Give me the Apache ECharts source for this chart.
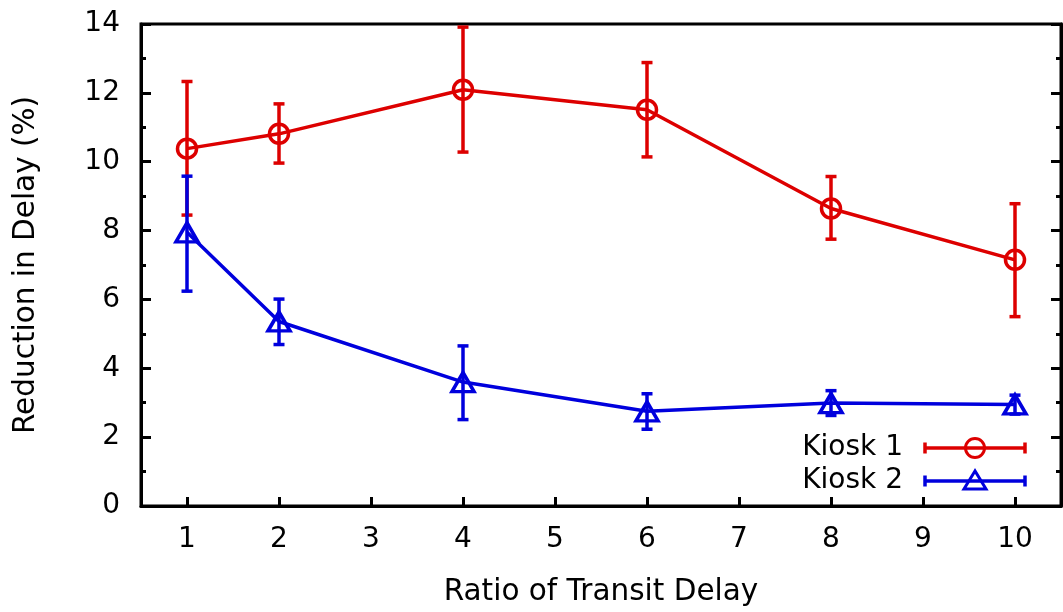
<!DOCTYPE html>
<html>
<head>
<meta charset="utf-8">
<script src="https://cdn.jsdelivr.net/npm/echarts@6/dist/echarts.min.js"></script>
<style>
html,body{margin:0;padding:0;background:#fff;}
#chart{width:1063px;height:612px;}
</style>
</head>
<body>
<div id="chart"></div>
<script>
// ---- data ----
const xValues = [1, 2, 4, 6, 8, 10];
const kiosk1Mean = [10.38, 10.81, 12.09, 11.51, 8.64, 7.15];
const kiosk1Low  = [8.45, 9.96, 10.28, 10.14, 7.75, 5.50];
const kiosk1High = [12.33, 11.68, 13.91, 12.88, 9.57, 8.78];
const kiosk2Mean = [7.95, 5.36, 3.60, 2.75, 2.99, 2.95];
const kiosk2Low  = [6.24, 4.69, 2.51, 2.23, 2.63, 2.67];
const kiosk2High = [9.58, 6.01, 4.65, 3.26, 3.35, 3.22];
const xTickValues = [1, 2, 3, 4, 5, 6, 7, 8, 9, 10];
const seriesNames = ['Kiosk 1', 'Kiosk 2'];
const xAxisTitle = 'Ratio of Transit Delay';
const yAxisTitle = 'Reduction in Delay (%)';

const RED = '#dd0000';
const BLUE = '#0000dd';
const FONT = "'DejaVu Sans', 'Liberation Sans', Arial, sans-serif";
const FS = 28;
const FS_TITLE = 29.5;

function pairs(xs, ys) { return xs.map((x, i) => [x, ys[i]]); }
function triples(xs, lo, hi) { return xs.map((x, i) => [x, lo[i], hi[i]]); }

function errorRenderer(color) {
  return function (params, api) {
    const x = api.value(0), lo = api.value(1), hi = api.value(2);
    const pLo = api.coord([x, lo]);
    const pHi = api.coord([x, hi]);
    const w = 5.5;
    const st = { stroke: color, lineWidth: 3.5 };
    return {
      type: 'group',
      children: [
        { type: 'line', shape: { x1: pLo[0], y1: pLo[1], x2: pHi[0], y2: pHi[1] }, style: st },
        { type: 'line', shape: { x1: pLo[0] - w, y1: pLo[1], x2: pLo[0] + w, y2: pLo[1] }, style: st },
        { type: 'line', shape: { x1: pHi[0] - w, y1: pHi[1], x2: pHi[0] + w, y2: pHi[1] }, style: st }
      ]
    };
  };
}

const chart = echarts.init(document.getElementById('chart'), null, { renderer: 'canvas' });

const legendX0 = 925, legendX1 = 1025, legendMX = 975;
const legendY = [448, 481];
function legendRow(y, color, name, markerShape) {
  const st = { stroke: color, lineWidth: 3.5 };
  const items = [
    { type: 'text', style: { text: name, x: 903, y: y, align: 'right', verticalAlign: 'middle', font: FS + 'px ' + FONT, fill: '#000' } },
    { type: 'line', shape: { x1: legendX0, y1: y, x2: legendX1, y2: y }, style: st },
    { type: 'line', shape: { x1: legendX0, y1: y - 5.5, x2: legendX0, y2: y + 5.5 }, style: st },
    { type: 'line', shape: { x1: legendX1, y1: y - 5.5, x2: legendX1, y2: y + 5.5 }, style: st }
  ];
  if (markerShape === 'circle') {
    items.push({ type: 'circle', shape: { cx: legendMX, cy: y, r: 9.5 }, style: { stroke: color, lineWidth: 3, fill: 'none' } });
  } else {
    items.push({ type: 'polygon', shape: { points: [[legendMX, y - 10], [legendMX - 11, y + 8], [legendMX + 11, y + 8]] }, style: { stroke: color, lineWidth: 3, fill: 'none' } });
  }
  return items;
}

const option = {
  backgroundColor: '#fff',
  animation: false,
  grid: {
    left: 141, right: 2, top: 24, bottom: 104,
    show: true, borderColor: '#000', borderWidth: 3, backgroundColor: 'transparent'
  },
  xAxis: {
    type: 'value', min: 0.5, max: 10.5,
    name: xAxisTitle, nameLocation: 'middle', nameGap: 71,
    nameTextStyle: { fontSize: FS_TITLE, color: '#000', fontFamily: FONT },
    axisLine: { show: true, lineStyle: { color: '#000', width: 3 } },
    axisTick: { show: true, inside: true, length: 9, customValues: xTickValues, lineStyle: { color: '#000', width: 3 } },
    axisLabel: { customValues: xTickValues, fontSize: FS, color: '#000', fontFamily: FONT, margin: 20 },
    splitLine: { show: false }
  },
  yAxis: [{
    type: 'value', min: 0, max: 14, interval: 2,
    name: yAxisTitle, nameLocation: 'middle', nameGap: 100,
    nameTextStyle: { fontSize: FS_TITLE, color: '#000', fontFamily: FONT },
    axisLine: { show: true, lineStyle: { color: '#000', width: 3 } },
    axisTick: { show: true, inside: true, length: 10, lineStyle: { color: '#000', width: 3 } },
    minorTick: { show: true, splitNumber: 2, length: 5, lineStyle: { color: '#000', width: 3 } },
    axisLabel: { fontSize: FS, color: '#000', fontFamily: FONT, margin: 21 },
    splitLine: { show: false }
  }, {
    type: 'value', min: 0, max: 14, interval: 2, position: 'right',
    axisLine: { show: true, lineStyle: { color: '#000', width: 3 } },
    axisTick: { show: true, inside: true, length: 10, lineStyle: { color: '#000', width: 3 } },
    minorTick: { show: true, splitNumber: 2, length: 5, lineStyle: { color: '#000', width: 3 } },
    axisLabel: { show: false },
    splitLine: { show: false }
  }],
  series: [
    {
      type: 'custom', name: seriesNames[0] + ' err',
      renderItem: errorRenderer(RED),
      data: triples(xValues, kiosk1Low, kiosk1High),
      encode: { x: 0, y: [1, 2] }, z: 2
    },
    {
      type: 'line', name: seriesNames[0],
      data: pairs(xValues, kiosk1Mean),
      symbol: 'circle', symbolSize: 19,
      lineStyle: { color: RED, width: 3.5 },
      itemStyle: { color: 'rgba(0,0,0,0)', borderColor: RED, borderWidth: 3.5 },
      z: 3
    },
    {
      type: 'custom', name: seriesNames[1] + ' err',
      renderItem: errorRenderer(BLUE),
      data: triples(xValues, kiosk2Low, kiosk2High),
      encode: { x: 0, y: [1, 2] }, z: 4
    },
    {
      type: 'line', name: seriesNames[1],
      data: pairs(xValues, kiosk2Mean),
      symbol: 'triangle', symbolSize: [22, 19],
      lineStyle: { color: BLUE, width: 3.5 },
      itemStyle: { color: 'rgba(0,0,0,0)', borderColor: BLUE, borderWidth: 3.5 },
      z: 5
    }
  ],
  graphic: [].concat(
    legendRow(legendY[0], RED, seriesNames[0], 'circle'),
    legendRow(legendY[1], BLUE, seriesNames[1], 'triangle')
  )
};
chart.setOption(option);
</script>
</body>
</html>
